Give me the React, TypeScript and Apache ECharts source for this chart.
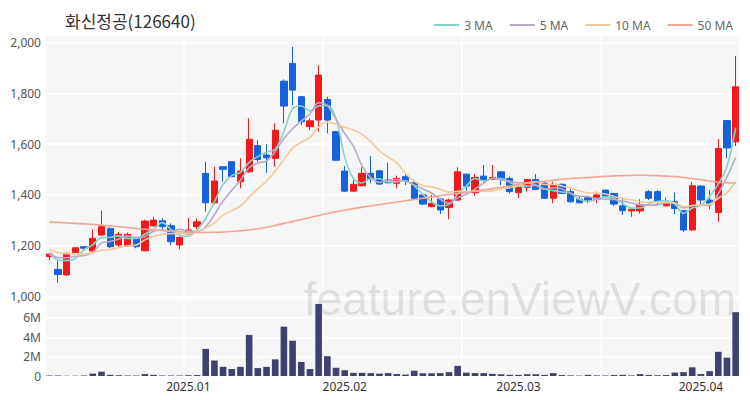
import React, { useEffect, useRef } from 'react';
import * as echarts from 'echarts';

const dates = [
  '2024-12-06', '2024-12-09', '2024-12-10', '2024-12-11', '2024-12-12', '2024-12-13',
  '2024-12-16', '2024-12-17', '2024-12-18', '2024-12-19', '2024-12-20',
  '2024-12-23', '2024-12-24', '2024-12-26', '2024-12-27', '2024-12-30',
  '2025-01-02', '2025-01-03', '2025-01-06', '2025-01-07', '2025-01-08', '2025-01-09', '2025-01-10',
  '2025-01-13', '2025-01-14', '2025-01-15', '2025-01-16', '2025-01-17',
  '2025-01-20', '2025-01-21', '2025-01-22', '2025-01-23', '2025-01-24', '2025-01-31',
  '2025-02-03', '2025-02-04', '2025-02-05', '2025-02-06', '2025-02-07',
  '2025-02-10', '2025-02-11', '2025-02-12', '2025-02-13', '2025-02-14',
  '2025-02-17', '2025-02-18', '2025-02-19', '2025-02-20', '2025-02-21',
  '2025-02-24', '2025-02-25', '2025-02-26', '2025-02-27', '2025-02-28',
  '2025-03-03', '2025-03-04', '2025-03-05', '2025-03-06', '2025-03-07',
  '2025-03-10', '2025-03-11', '2025-03-12', '2025-03-13', '2025-03-14',
  '2025-03-17', '2025-03-18', '2025-03-19', '2025-03-20', '2025-03-21',
  '2025-03-24', '2025-03-25', '2025-03-26', '2025-03-27', '2025-03-28', '2025-03-31',
  '2025-04-01', '2025-04-02', '2025-04-03', '2025-04-04', '2025-04-07',
];

const opens = [
  1157, 1107, 1085, 1172, 1196, 1179, 1242, 1268, 1203, 1199, 1233, 1180, 1278, 1298, 1279, 1203,
  1246, 1275, 1485, 1369, 1511, 1531, 1452, 1491, 1594, 1557, 1544, 1848, 1918, 1787, 1669, 1695,
  1776, 1649, 1494, 1415, 1436, 1485, 1495, 1459, 1446, 1472, 1448, 1400, 1354, 1384, 1351, 1380,
  1482, 1409, 1474, 1461, 1491, 1465, 1409, 1430, 1461, 1446, 1387, 1442, 1413, 1383, 1389, 1383,
  1419, 1406, 1357, 1337, 1337, 1413, 1413, 1357, 1373, 1338, 1262, 1435, 1380, 1331, 1693, 1609,
];
const closes = [
  1167, 1087, 1170, 1192, 1190, 1229, 1275, 1196, 1245, 1245, 1196, 1297, 1301, 1275, 1216, 1233,
  1262, 1294, 1369, 1455, 1501, 1472, 1494, 1619, 1540, 1546, 1655, 1750, 1813, 1688, 1692, 1872,
  1695, 1537, 1415, 1442, 1485, 1463, 1443, 1448, 1465, 1455, 1387, 1364, 1367, 1341, 1380, 1491,
  1435, 1469, 1459, 1469, 1465, 1413, 1430, 1461, 1422, 1387, 1442, 1406, 1373, 1369, 1380, 1400,
  1396, 1364, 1338, 1344, 1363, 1387, 1373, 1373, 1347, 1262, 1436, 1380, 1367, 1583, 1585, 1826,
];
const lows = [
  1144, 1054, 1081, 1170, 1180, 1176, 1238, 1190, 1196, 1195, 1190, 1178, 1275, 1262, 1203, 1186,
  1242, 1265, 1334, 1364, 1452, 1470, 1426, 1487, 1531, 1487, 1511, 1682, 1754, 1675, 1655, 1649,
  1643, 1535, 1413, 1413, 1435, 1446, 1440, 1446, 1426, 1439, 1383, 1360, 1351, 1325, 1304, 1376,
  1417, 1396, 1446, 1459, 1439, 1406, 1387, 1413, 1419, 1385, 1367, 1404, 1369, 1367, 1367, 1367,
  1393, 1356, 1321, 1314, 1327, 1380, 1357, 1354, 1325, 1255, 1260, 1364, 1343, 1294, 1544, 1593,
];
const highs = [
  1172, 1148, 1173, 1194, 1197, 1265, 1338, 1272, 1255, 1252, 1236, 1303, 1314, 1308, 1288, 1236,
  1310, 1308, 1531, 1511, 1514, 1533, 1544, 1702, 1616, 1600, 1682, 1855, 1983, 1790, 1702, 1911,
  1787, 1652, 1514, 1459, 1509, 1553, 1497, 1527, 1476, 1481, 1461, 1402, 1400, 1388, 1385, 1509,
  1484, 1482, 1518, 1518, 1493, 1472, 1433, 1463, 1482, 1450, 1452, 1446, 1430, 1393, 1397, 1413,
  1421, 1408, 1390, 1347, 1383, 1419, 1419, 1390, 1410, 1340, 1452, 1438, 1419, 1620, 1695, 1947,
];
const volumesM = [
  0.05, 0.05, 0.03, 0.03, 0.05, 0.25, 0.45, 0.12, 0.08, 0.05, 0.05, 0.2, 0.12, 0.05, 0.05, 0.05,
  0.08, 0.1, 2.8, 1.6, 0.95, 0.72, 0.95, 4.25, 0.82, 0.95, 1.72, 5.1, 3.65, 1.45, 0.72, 7.45,
  2.05, 0.85, 0.6, 0.32, 0.32, 0.3, 0.25, 0.3, 0.2, 0.15, 0.55, 0.28, 0.28, 0.3, 0.4, 1.05,
  0.35, 0.3, 0.3, 0.22, 0.18, 0.12, 0.12, 0.18, 0.18, 0.12, 0.3, 0.1, 0.06, 0.04, 0.12, 0.06,
  0.05, 0.1, 0.12, 0.06, 0.2, 0.1, 0.08, 0.1, 0.35, 0.4, 0.9, 0.2, 0.5, 2.5, 1.9, 6.6,
];
const priorCloses = [1200, 1210, 1195, 1190, 1185, 1180, 1175, 1160, 1178];
const ma50 = [
  1293, 1292, 1290, 1288, 1286, 1284, 1281, 1278, 1275, 1272, 1268, 1265, 1262, 1259, 1257, 1255,
  1253, 1252, 1252, 1253, 1254, 1256, 1259, 1262, 1267, 1273, 1280, 1288, 1295, 1303, 1311, 1319,
  1327, 1334, 1340, 1346, 1352, 1357, 1362, 1367, 1372, 1377, 1382, 1387, 1392, 1397, 1402, 1406,
  1410, 1414, 1420, 1425, 1430, 1435, 1441, 1446, 1450, 1454, 1458, 1462, 1465, 1467, 1469, 1471,
  1473, 1475, 1476, 1477, 1478, 1477, 1476, 1474, 1472, 1469, 1465, 1460, 1455, 1450, 1448, 1447,
];
const legendNames = ['3 MA', '5 MA', '10 MA', '50 MA'];
const maColors = ['#86d3c6', '#b9a9c9', '#f2cb9c', '#f5a593'];

function movingAverage(n: number): number[] {
  const all = [...priorCloses, ...closes];
  const off = priorCloses.length;
  return closes.map((_, i) => {
    let s = 0;
    for (let k = 0; k < n; k++) s += all[off + i - k];
    return Math.round((s / n) * 10) / 10;
  });
}

function fmtComma(v: number): string {
  return String(v).replace(/\B(?=(\d{3})+(?!\d))/g, ',');
}

export default function App() {
  const ref = useRef<HTMLDivElement>(null);
  useEffect(() => {
    if (!ref.current) return;
    document.body.style.margin = '0';
    const chart = echarts.init(ref.current, undefined, { renderer: 'svg' });
    const candleData = opens.map((o, i) => [o, closes[i], lows[i], highs[i]]);
    const volData = volumesM.map((v) => Math.round(v * 1e6));
    const mas = [movingAverage(3), movingAverage(5), movingAverage(10), ma50];
    const monthStart = (i: number) => i > 0 && dates[i].slice(5, 7) !== dates[i - 1].slice(5, 7);
    const font = "'Noto Sans', 'Noto Sans CJK KR', sans-serif";

    chart.setOption({
      animation: false,
      textStyle: { fontFamily: font },
      title: {
        text: '화신정공(126640)',
        left: 60,
        top: 7,
        textStyle: { fontSize: 17, fontWeight: 'normal', color: '#333', fontFamily: "'Noto Sans CJK KR', sans-serif" },
      },
      legend: {
        data: legendNames,
        right: 12,
        top: 14,
        icon: 'rect',
        itemWidth: 25,
        itemHeight: 2,
        itemGap: 17,
        textStyle: { fontSize: 12, color: '#666' },
      },
      graphic: [
        {
          type: 'text',
          x: 736,
          y: 299,
          z: 1,
          style: {
            text: 'feature.enViewV.com',
            fontSize: 46,
            fontFamily: "'Liberation Sans', Arial, sans-serif",
            fill: 'rgba(120,120,120,0.2)',
            align: 'right',
            verticalAlign: 'middle',
          },
        },
      ],
      grid: [
        { left: 45, right: 10, top: 35, height: 261.5, show: true, backgroundColor: '#f6f6f6', borderWidth: 0 },
        { left: 45, right: 10, top: 297, height: 79, show: true, backgroundColor: '#f6f6f6', borderWidth: 0 },
      ],
      xAxis: [
        {
          type: 'category',
          gridIndex: 0,
          data: dates,
          boundaryGap: true,
          axisLine: { show: false },
          axisTick: { show: false },
          axisLabel: { show: false },
          splitLine: { show: true, interval: 15, lineStyle: { color: '#ffffff', width: 1.5 } },
        },
        {
          type: 'category',
          gridIndex: 1,
          data: dates,
          boundaryGap: true,
          axisLine: { show: false },
          axisTick: { show: false },
          axisLabel: {
            interval: (i: number) => monthStart(i),
            formatter: (v: string) => v.slice(0, 7).replace('-', '.'),
            fontSize: 12,
            color: '#333',
            margin: 4,
          },
          splitLine: { show: true, interval: 15, lineStyle: { color: '#ffffff', width: 1.5 } },
        },
      ],
      yAxis: [
        {
          type: 'value',
          gridIndex: 0,
          min: 1000,
          max: 2030,
          interval: 200,
          axisLine: { show: false },
          axisTick: { show: false },
          axisLabel: {
            showMaxLabel: false,
            formatter: (v: number) => (v > 2000 ? '' : fmtComma(v)),
            fontSize: 12,
            color: '#555',
            margin: 4,
          },
          splitLine: { show: true, lineStyle: { color: '#ffffff', width: 1.5 } },
        },
        {
          type: 'value',
          gridIndex: 1,
          min: 0,
          max: 8170000,
          interval: 2000000,
          axisLine: { show: false },
          axisTick: { show: false },
          axisLabel: {
            formatter: (v: number) => (v === 0 ? '0' : v <= 6000000 ? v / 1000000 + 'M' : ''),
            fontSize: 12,
            color: '#555',
            margin: 4,
          },
          splitLine: { show: true, lineStyle: { color: '#ffffff', width: 1.5 } },
        },
      ],
      series: [
        {
          type: 'candlestick',
          name: 'price',
          xAxisIndex: 0,
          yAxisIndex: 0,
          data: candleData,
          barWidth: '78%',
          itemStyle: {
            color: '#f2191c',
            color0: '#1462dc',
            borderColor: '#f2191c',
            borderColor0: '#1462dc',
            borderWidth: 1,
          },
          z: 3,
        },
        ...legendNames.map((name, k) => ({
          type: 'line',
          name,
          xAxisIndex: 0,
          yAxisIndex: 0,
          data: mas[k],
          showSymbol: false,
          smooth: 0.35,
          color: maColors[k],
          lineStyle: { width: 1.6, color: maColors[k] },
          z: 4,
        })),
        {
          type: 'bar',
          name: 'volume',
          xAxisIndex: 1,
          yAxisIndex: 1,
          data: volData,
          barWidth: '76%',
          itemStyle: { color: '#3f4170' },
        },
      ],
    });
    return () => chart.dispose();
  }, []);
  return <div ref={ref} style={{ width: 750, height: 400 }} />;
}
